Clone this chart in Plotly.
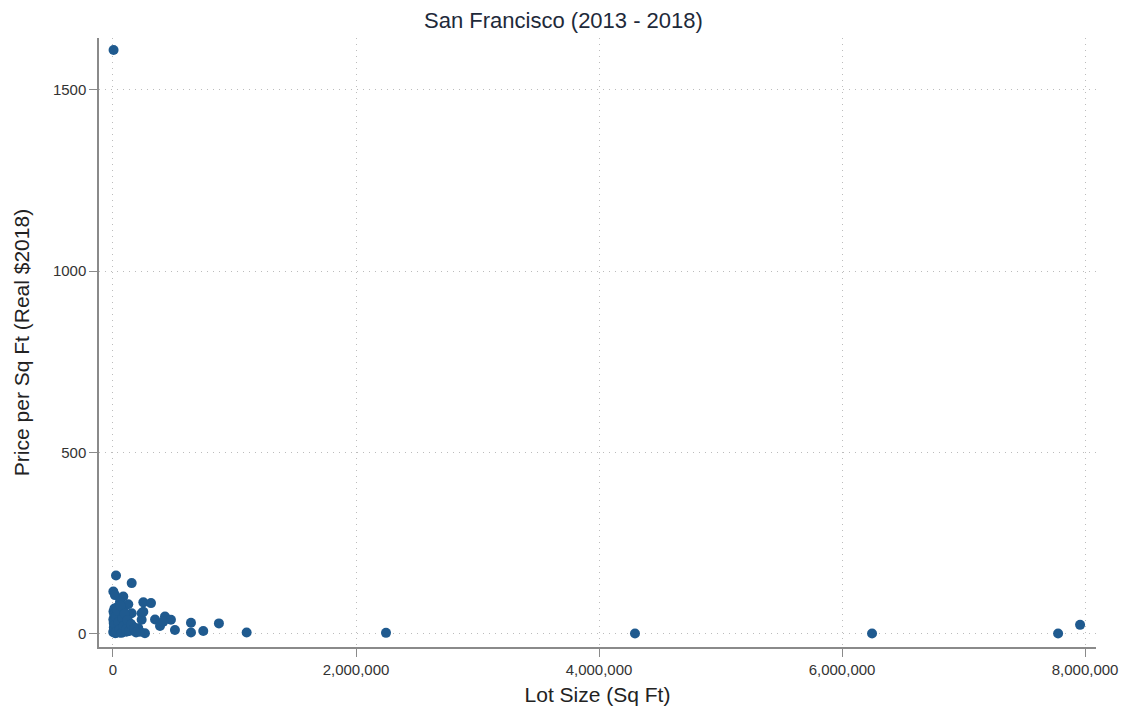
import plotly.graph_objects as go

# Lot size (sq ft) and real price per sq ft ($2018), San Francisco sales 2013-2018
lot_size = [
    5000, 25000, 154000, 3000, 16000, 85000, 250000, 313000, 58000, 126000,
    236000, 346000, 428000, 477000, 387000, 510000, 642000, 642000, 743000, 872000,
    1100000, 263000, 208000, 236000, 154000, 167000, 414000, 222000, 250000,
    2247000, 4296000, 6247000, 7778000, 7959000,
    2000, 4000, 6000, 8000, 10000, 12000, 15000, 18000, 20000, 22000,
    25000, 28000, 30000, 33000, 36000, 40000, 44000, 48000, 52000, 55000,
    60000, 64000, 68000, 72000, 76000, 80000, 86000, 92000, 98000, 104000,
    110000, 116000, 122000, 130000, 138000, 145000, 3000, 7000, 11000, 14000,
    19000, 24000, 31000, 38000, 45000, 53000, 62000, 70000, 78000, 88000,
    96000, 108000, 118000, 135000, 150000, 175000, 190000,
]
price_sqft = [
    1609, 161, 140, 117, 107, 103, 87, 85, 89, 82,
    57, 40, 48, 39, 22, 11, 31, 4, 8, 29,
    4, 2, 16, 39, 57, 20, 34, 6, 61,
    3, 1, 1, 1, 25,
    5, 62, 30, 12, 45, 70, 8, 55, 22, 38,
    3, 66, 15, 48, 28, 75, 10, 35, 58, 4,
    42, 20, 68, 9, 50, 30, 14, 60, 25, 44,
    6, 36, 18, 52, 10, 28, 40, 18, 54, 26,
    2, 47, 7, 64, 32, 12, 78, 3, 44, 22,
    56, 12, 38, 8, 26, 14, 4,
]

x_ticks = [0, 2000000, 4000000, 6000000, 8000000]
x_tick_text = ["0", "2,000,000", "4,000,000", "6,000,000", "8,000,000"]
y_ticks = [0, 500, 1000, 1500]

FONT = "Liberation Sans, Arial, sans-serif"

fig = go.Figure(
    go.Scatter(
        x=lot_size,
        y=price_sqft,
        mode="markers",
        marker=dict(size=10, color="#1f5a8f", line=dict(width=0)),
        hoverinfo="x+y",
    )
)

axis_common = dict(
    showline=True,
    linecolor="#8a8a8a",
    linewidth=1.5,
    ticks="outside",
    ticklen=8,
    tickcolor="#8a8a8a",
    showgrid=True,
    gridcolor="#bcbcbc",
    griddash="1px,5px",
    gridwidth=1,
    zeroline=False,
    automargin=False,
    tickfont=dict(family=FONT, size=15, color="#333333"),
    title_font=dict(family=FONT, size=21, color="#222222"),
)

fig.update_layout(
    width=1127,
    height=713,
    paper_bgcolor="white",
    plot_bgcolor="white",
    margin=dict(l=99, r=31, t=38, b=66),
    showlegend=False,
    title=dict(
        text="San Francisco (2013 - 2018)",
        x=0.5,
        xanchor="center",
        y=0.972,
        yanchor="middle",
        font=dict(family=FONT, size=22, color="#1e2a3a"),
    ),
    xaxis=dict(
        axis_common,
        range=[-115000, 8090000],
        tickvals=x_ticks,
        ticktext=x_tick_text,
        title=dict(text="Lot Size (Sq Ft)", standoff=11),
    ),
    yaxis=dict(
        axis_common,
        range=[-36, 1642],
        tickvals=y_ticks,
        title=dict(text="Price per Sq Ft (Real $2018)", standoff=18),
    ),
)

fig.write_html("out.html")
